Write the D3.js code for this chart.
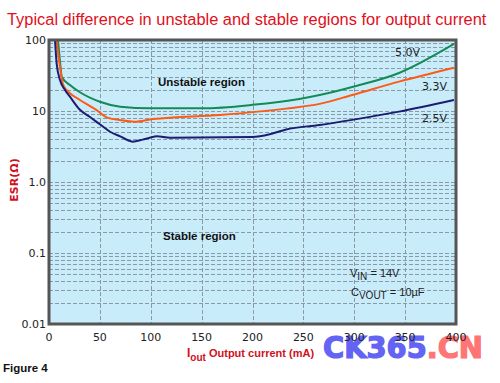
<!DOCTYPE html>
<html><head><meta charset="utf-8">
<script src="https://cdn.jsdelivr.net/npm/d3@7"></script>
<style>body{margin:0;background:#fff}svg{display:block}</style>
</head><body>
<svg id="c" width="500" height="383"></svg>
<script>
const xTicks = [0,50,100,150,200,250,300,350,400];
const yTicks = [100,10,1,0.1,0.01];
const yTickLabels = ["100","10","1.0","0.1","0.01"];

const current50 = [8.8, 11, 12.5, 20.6, 30, 50, 70, 100, 150, 200, 246, 266, 298, 344, 398];
const esr50     = [100, 47, 30.4, 23.2, 18.5, 13.5, 11.5, 10.9, 10.9, 12.2, 14.8, 16.8, 21.8, 34.3, 88];

const current33 = [7.5, 9.1, 10.8, 14, 20.6, 30.4, 46.8, 56.6, 69.6, 84, 102, 168, 233, 266, 298, 344, 398];
const esr33     = [100, 61.5, 42, 23.2, 17.8, 14.3, 10.3, 8.15, 7.47, 7.06, 7.7, 8.8, 10.8, 12.6, 16.8, 25.9, 40.7];

const current25 = [5.9, 7.5, 10.8, 15.7, 20.6, 30.4, 40, 50, 60, 70, 82, 92, 99, 106, 119, 200, 217, 233, 266, 298, 344, 398];
const esr25     = [100, 47, 27.3, 19.8, 15.9, 10.4, 8.3, 6.5, 5.1, 4.4, 3.7, 3.95, 4.2, 4.4, 4.2, 4.3, 4.7, 5.5, 6.35, 7.5, 9.8, 14.3];

const seriesNames = ["5.0V","3.3V","2.5V"];
const seriesColors = ["#148a55","#ff5a14","#1c1c72"];

const svg = d3.select("#c");
const L=49, R=456, T=40, B=324;
const x = d3.scaleLinear().domain([0,400]).range([L,R]);
const y = d3.scaleLog().domain([0.01,100]).range([B,T]);

// title (font size fitted to the reference width)
const title = svg.append("text").attr("x",7).attr("y",25).attr("fill","#e0101c")
  .attr("font-family","'Liberation Sans',Arial,sans-serif").attr("font-size",17)
  .text("Typical difference in unstable  and stable regions for output current");
const tw = title.node().getComputedTextLength();
title.attr("font-size", 17 * 480 / tw);

// plot bg
svg.append("rect").attr("x",L).attr("y",T).attr("width",R-L).attr("height",B-T).attr("fill","#c9ecfb");

const defs = svg.append("defs");
defs.append("clipPath").attr("id","clip").append("rect").attr("x",L).attr("y",T).attr("width",R-L).attr("height",B-T);

// grid
const g = svg.append("g");
const minor = [];
for (let e=-2;e<2;e++) for (let m=1;m<10;m++) { const v=m*Math.pow(10,e); if (v>0.01 && v<100) minor.push(v); }
g.selectAll("line.h").data(minor).join("line")
  .attr("x1",L).attr("x2",R).attr("y1",d=>Math.round(y(d))+0.5).attr("y2",d=>Math.round(y(d))+0.5)
  .attr("stroke","#8a9aa4").attr("stroke-width",1).attr("stroke-dasharray","4,2");
g.selectAll("line.v").data(xTicks.filter(d=>d>0&&d<400)).join("line")
  .attr("y1",T).attr("y2",B).attr("x1",d=>Math.round(x(d))+0.5).attr("x2",d=>Math.round(x(d))+0.5)
  .attr("stroke","#8a9aa4").attr("stroke-width",1).attr("stroke-dasharray","4,2");

// curves
const line = d3.line().x(d=>x(d[0])).y(d=>y(d[1])).curve(d3.curveMonotoneX);
const data = [d3.zip(current50,esr50), d3.zip(current33,esr33), d3.zip(current25,esr25)];
svg.append("g").attr("clip-path","url(#clip)").selectAll("path").data(data).join("path")
  .attr("d",line).attr("fill","none").attr("stroke",(d,i)=>seriesColors[i]).attr("stroke-width",2);

// border
svg.append("rect").attr("x",L).attr("y",T).attr("width",R-L).attr("height",B-T)
  .attr("fill","none").attr("stroke","#555").attr("stroke-width",3);

const lblFont = "'DejaVu Sans',sans-serif";
const narrow = "'Liberation Sans',Arial,sans-serif";
// series labels
const lblPos = [[395,56],[422,90],[422,122]];
seriesNames.forEach((n,i)=>{
  svg.append("text").attr("x",lblPos[i][0]).attr("y",lblPos[i][1]).attr("font-family",lblFont)
    .attr("font-size",11).attr("fill","#222").text(n);
});

// region labels
svg.append("text").attr("x",158).attr("y",86).attr("font-family",narrow).attr("font-weight","bold")
  .attr("font-size",11.5).attr("fill","#111").text("Unstable region");
svg.append("text").attr("x",163).attr("y",240).attr("font-family",narrow).attr("font-weight","bold")
  .attr("font-size",11.5).attr("fill","#111").text("Stable region");

// annotations
const vin = svg.append("text").attr("x",350).attr("y",277).attr("font-family",narrow).attr("font-size",11).attr("fill","#222");
vin.append("tspan").text("V");
vin.append("tspan").attr("dy",3).attr("font-size",10).text("IN");
vin.append("tspan").attr("dy",-3).text(" = 14V");
const cv = svg.append("text").attr("x",351).attr("y",296).attr("font-family",narrow).attr("font-size",11).attr("fill","#222");
cv.append("tspan").text("C");
cv.append("tspan").attr("dy",3).attr("font-size",10).text("VOUT");
cv.append("tspan").attr("dy",-3).text(" = 10µF");

// watermark
const wm = svg.append("text").attr("x",323).attr("y",358)
  .attr("font-family","'DejaVu Sans Condensed','DejaVu Sans',sans-serif").attr("font-weight","bold")
  .attr("font-size",30).attr("textLength",160).attr("lengthAdjust","spacingAndGlyphs")
  .attr("stroke-width",1.2);
wm.append("tspan").attr("fill","#6363f4").attr("stroke","#6363f4").text("CK365");
wm.append("tspan").attr("fill","#ff7474").attr("stroke","#ff7474").text(".CN");

// axis tick labels
svg.selectAll("text.yt").data(yTicks).join("text")
  .attr("x",46).attr("y",d=>y(d)+4).attr("text-anchor","end")
  .attr("font-family",lblFont).attr("font-size",11).attr("fill","#222")
  .text((d,i)=>yTickLabels[i]);
svg.selectAll("text.xt").data(xTicks).join("text")
  .attr("x",d=>x(d)).attr("y",341).attr("text-anchor","middle")
  .attr("font-family",lblFont).attr("font-size",11).attr("fill","#222")
  .text(d=>d);

// axis titles
const xt = svg.append("text").attr("x",187).attr("y",357).attr("font-family",narrow)
  .attr("font-weight","bold").attr("font-size",11).attr("fill","#d0101c");
xt.append("tspan").attr("font-size",12).text("I");
xt.append("tspan").attr("dy",4).attr("font-size",10).text("out");
xt.append("tspan").attr("dy",-4).text(" Output current (mA)");

svg.append("text").attr("transform","translate(18,180) rotate(-90)").attr("text-anchor","middle")
  .attr("font-family",lblFont).attr("font-weight","bold").attr("font-size",11).attr("fill","#d0101c")
  .text("ESR(Ω)");

svg.append("text").attr("x",3).attr("y",372).attr("font-family",narrow).attr("font-weight","bold")
  .attr("font-size",11.5).attr("fill","#111").text("Figure 4");
</script>
</body></html>
